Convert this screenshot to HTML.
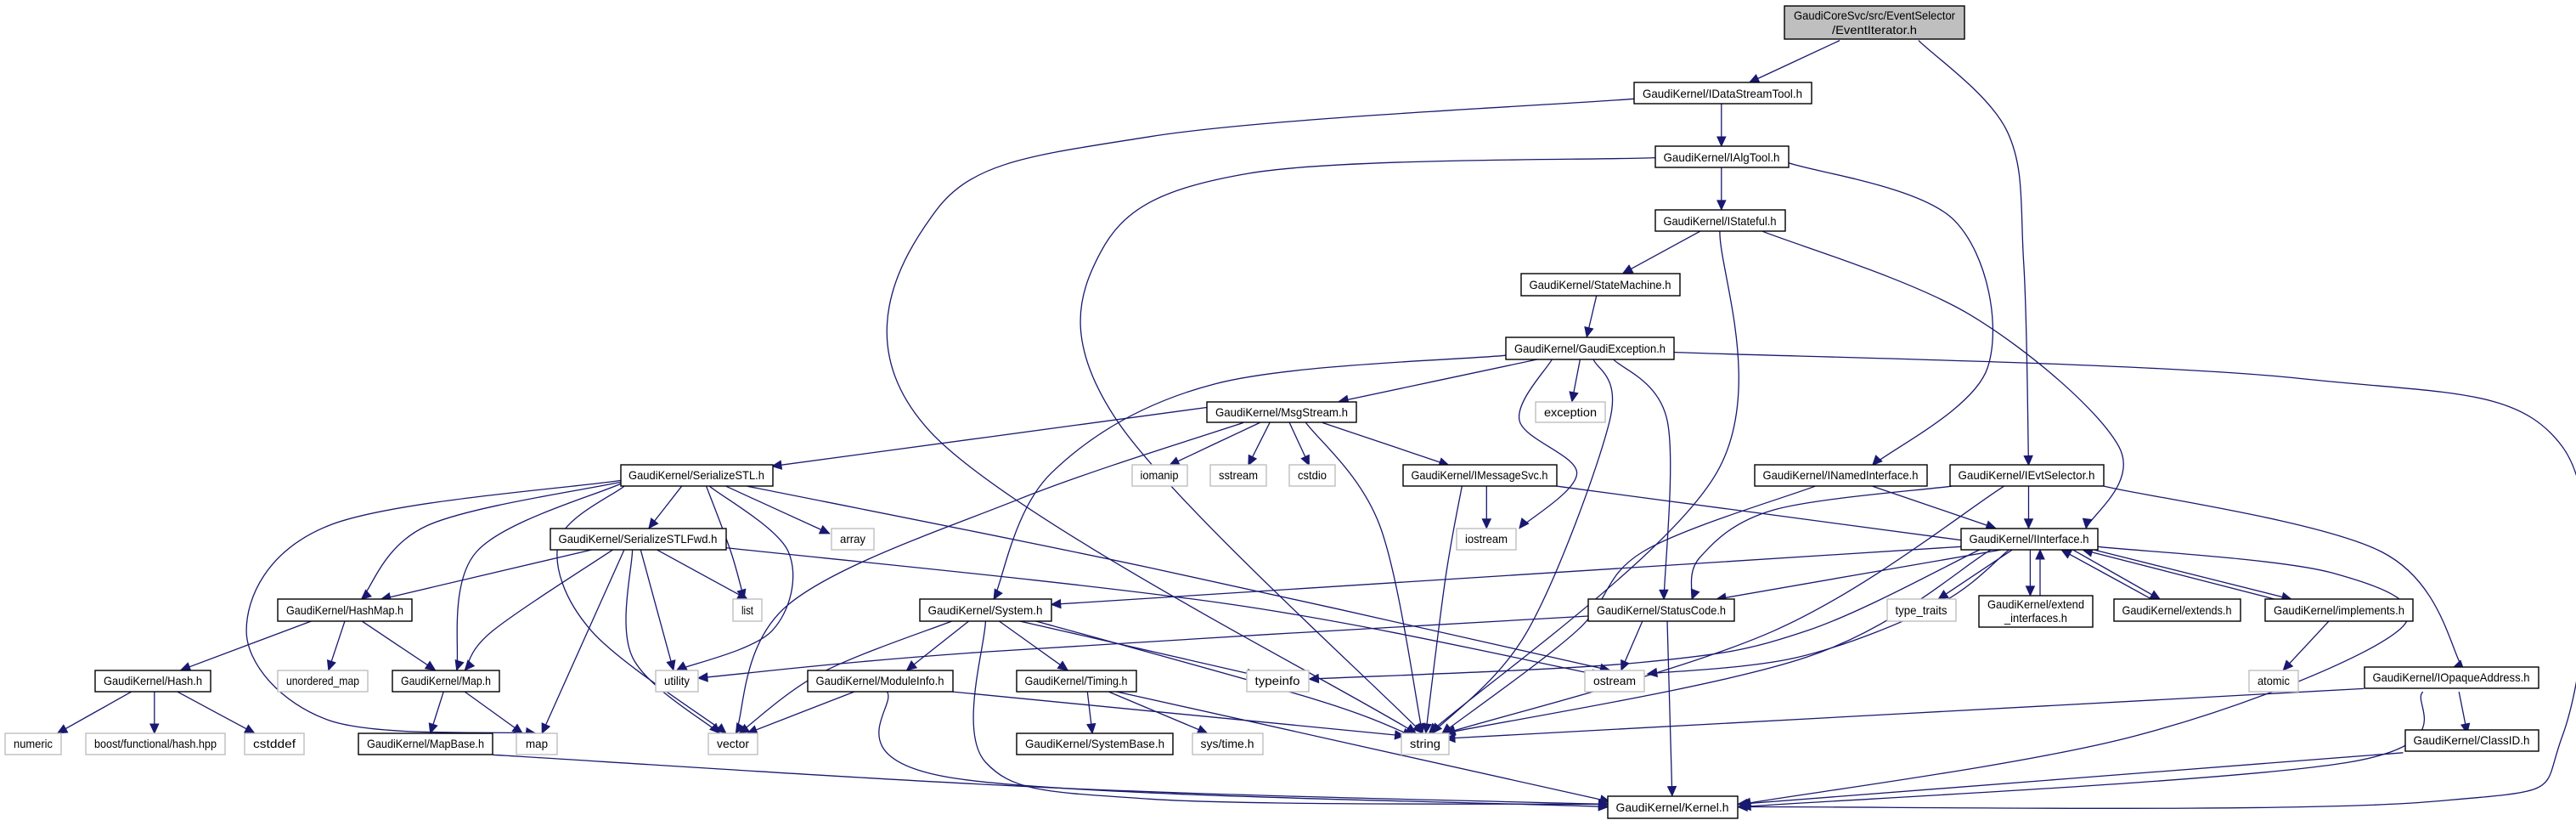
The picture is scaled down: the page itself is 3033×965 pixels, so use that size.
<!DOCTYPE html>
<html><head><meta charset="utf-8"><style>
html,body{margin:0;padding:0;background:#fff;}
svg{display:block;}
text{font-family:"Liberation Sans",sans-serif;font-size:14px;fill:#000;}
</style></head><body>
<svg id="g" xmlns="http://www.w3.org/2000/svg" width="3033" height="965" viewBox="0 0 3033 965">
<g id="edges" fill="none" stroke="#191970" stroke-width="1.3"></g>
<g id="arrows" fill="#191970" stroke="#191970" stroke-width="1"></g>
<g id="nodes" stroke-width="1.4">
<rect x="2101" y="7" width="212" height="39" fill="#bfbfbf" stroke="#000"/>
<text x="2207" y="23" text-anchor="middle" textLength="190" lengthAdjust="spacingAndGlyphs">GaudiCoreSvc/src/EventSelector</text>
<text x="2207" y="40" text-anchor="middle" textLength="100" lengthAdjust="spacingAndGlyphs">/EventIterator.h</text>
</g>
</svg>
<script>
var S=1.934,T=0.6186;
var N=[
[1924,2133,97,122,"GaudiKernel/IDataStreamTool.h",1],
[1949,2106,172,197,"GaudiKernel/IAlgTool.h",1],
[1949,2102,247,272,"GaudiKernel/IStateful.h",1],
[1791,1978,322,348,"GaudiKernel/StateMachine.h",1],
[1773,1971,397,423,"GaudiKernel/GaudiException.h",1],
[1421,1597,473,497,"GaudiKernel/MsgStream.h",1],
[1808,1890,473,497,"exception",0],
[731,910,547,572,"GaudiKernel/SerializeSTL.h",1],
[1333,1398,547,572,"iomanip",0],
[1425,1491,547,572,"sstream",0],
[1518,1572,547,572,"cstdio",0],
[1652,1833,547,572,"GaudiKernel/IMessageSvc.h",1],
[2066,2269,547,572,"GaudiKernel/INamedInterface.h",1],
[2296,2477,547,572,"GaudiKernel/IEvtSelector.h",1],
[648,855,622,647,"GaudiKernel/SerializeSTLFwd.h",1],
[979,1029,622,647,"array",0],
[1715,1785,622,647,"iostream",0],
[2309,2470,622,647,"GaudiKernel/IInterface.h",1],
[327,485,705,731,"GaudiKernel/HashMap.h",1],
[863,897,705,731,"list",0],
[1083,1238,705,731,"GaudiKernel/System.h",1],
[1870,2042,705,731,"GaudiKernel/StatusCode.h",1],
[2222,2303,705,731,"type_traits",0],
[2489,2638,705,731,"GaudiKernel/extends.h",1],
[2667,2841,705,731,"GaudiKernel/implements.h",1],
[112,248,789,814,"GaudiKernel/Hash.h",1],
[327,433,789,814,"unordered_map",0],
[462,588,789,814,"GaudiKernel/Map.h",1],
[772,822,789,814,"utility",0],
[951,1122,789,814,"GaudiKernel/ModuleInfo.h",1],
[1197,1338,789,814,"GaudiKernel/Timing.h",1],
[1468,1541,789,814,"typeinfo",0],
[1866,1936,789,814,"ostream",0],
[2648,2706,789,814,"atomic",0],
[2784,2989,785,810,"GaudiKernel/IOpaqueAddress.h",1],
[6,72,863,888,"numeric",0],
[101,265,863,888,"boost/functional/hash.hpp",0],
[288,358,863,888,"cstddef",0],
[422,580,863,888,"GaudiKernel/MapBase.h",1],
[608,656,863,888,"map",0],
[834,892,863,888,"vector",0],
[1197,1381,863,888,"GaudiKernel/SystemBase.h",1],
[1404,1487,863,888,"sys/time.h",0],
[1650,1706,863,888,"string",0],
[2832,2989,859,884,"GaudiKernel/ClassID.h",1],
[1893,2046,937,963,"GaudiKernel/Kernel.h",1]
];
var ns="http://www.w3.org/2000/svg";
function el(t,a,p){var e=document.createElementNS(ns,t);for(var k in a)e.setAttribute(k,a[k]);p.appendChild(e);return e;}
var G=document.getElementById("nodes");
N.forEach(function(n){
 el("rect",{x:n[0],y:n[2],width:n[1]-n[0],height:n[3]-n[2],fill:"#fff",stroke:n[5]?"#000":"#bfbfbf"},G);
});
// two-line extend_interfaces
el("rect",{x:2330,y:701,width:134,height:37,fill:"#fff",stroke:"#000"},G);
var E=[
[[1120,77],[1065,157]],
[[1168,77],[1222,250],[1232,500],[1235,885]],
[[1048,198],[1048,278]],
[[995,188],[700,260],[570,400],[566,820],[862,1395]],
[[1048,319],[1048,399]],
[[1008,300],[760,330],[670,480],[680,800],[866,1395]],
[[1089,310],[1190,420],[1210,700],[1140,885]],
[[1035,440],[988,520]],
[[1047,440],[1045,900],[870,1395]],
[[1073,440],[1200,600],[1290,850],[1270,1005]],
[[972,562],[966,641]],
[[937,683],[815,764]],
[[917,676],[740,730],[640,900],[605,1140]],
[[962,683],[957,764]],
[[945,683],[925,800],[960,900],[925,1005]],
[[970,683],[980,800],[930,1200],[872,1395]],
[[982,683],[1015,800],[1013,1140]],
[[1019,670],[1400,720],[1560,850],[1560,1400],[1480,1525],[1058,1535]],
[[735,775],[470,887]],
[[757,804],[620,950],[480,1150],[448,1395]],
[[767,804],[712,885]],
[[773,804],[760,885]],
[[785,804],[797,885]],
[[795,804],[840,1000],[866,1395]],
[[805,804],[882,885]],
[[415,925],[395,1005]],
[[442,925],[505,1015]],
[[430,925],[445,1050],[453,1140]],
[[432,925],[480,1050],[470,1200],[412,1275]],
[[455,925],[700,1080],[980,1275]],
[[378,917],[260,1000],[220,1140]],
[[378,920],[290,1050],[278,1275]],
[[378,914],[200,1000],[150,1200],[200,1370],[326,1395]],
[[380,925],[340,1030],[360,1200],[442,1395]],
[[360,1046],[232,1140]],
[[373,1046],[300,1200],[283,1275]],
[[380,1046],[330,1395]],
[[385,1046],[385,1250],[438,1395]],
[[390,1046],[410,1275]],
[[400,1046],[455,1140]],
[[442,1042],[750,1150],[975,1285]],
[[190,1181],[110,1275]],
[[210,1181],[200,1275]],
[[220,1181],[265,1275]],
[[80,1316],[35,1395]],
[[94,1316],[94,1395]],
[[108,1316],[155,1395]],
[[270,1316],[262,1395]],
[[283,1316],[318,1395]],
[[300,1436],[650,1500],[979,1530]],
[[905,925],[905,1005]],
[[890,925],[880,1100],[868,1395]],
[[948,925],[1200,1030]],
[[1140,925],[1215,1005]],
[[1105,925],[1000,1050],[960,1200],[878,1395]],
[[1235,925],[1235,1005]],
[[1188,925],[1080,970],[1035,1060],[1030,1140]],
[[1220,925],[1080,1200],[880,1395]],
[[1281,925],[1450,1050],[1500,1275]],
[[1194,1040],[640,1150]],
[[1218,1046],[1045,1140]],
[[1205,1046],[1100,1200],[1000,1260],[797,1292]],
[[1223,1046],[1180,1150],[1095,1250],[1003,1282]],
[[1225,1046],[1180,1140]],
[[1212,1046],[1100,1250],[880,1395]],
[[1277,1040],[1420,1090],[1460,1200],[1300,1400],[1060,1530]],
[[1236,1046],[1236,1133]],
[[1242,1133],[1242,1046]],
[[1310,1140],[1255,1046]],
[[1262,1046],[1315,1140]],
[[1385,1140],[1268,1046]],
[[1275,1046],[1395,1140]],
[[1418,1181],[1390,1275]],
[[967,1172],[600,1240],[425,1290]],
[[1000,1181],[987,1275]],
[[1015,1181],[1018,1514]],
[[580,1181],[500,1280],[450,1395]],
[[590,1181],[552,1275]],
[[608,1181],[650,1275]],
[[620,1181],[765,1285]],
[[630,1181],[800,1330],[860,1400]],
[[600,1181],[600,1450],[700,1520],[979,1530]],
[[520,1316],[455,1395]],
[[580,1316],[855,1400]],
[[540,1316],[580,1480],[979,1535]],
[[662,1316],[665,1395]],
[[675,1316],[735,1395]],
[[680,1316],[980,1525]],
[[1439,1310],[880,1405]],
[[1497,1316],[1502,1395]],
[[1475,1316],[1430,1450],[1060,1535]],
[[1463,1432],[1058,1530]]
];
var EG=document.getElementById("edges"),AG=document.getElementById("arrows");
E.forEach(function(e){
 var p=e.map(function(q){return [q[0]*S,q[1]*T];});
 var n=p.length,d="M"+p[0][0].toFixed(1)+","+p[0][1].toFixed(1);
 for(var i=0;i<n-1;i++){
  var p0=p[i>0?i-1:i],p1=p[i],p2=p[i+1],p3=p[i+2<n?i+2:i+1];
  var c1=[p1[0]+(p2[0]-p0[0])/6,p1[1]+(p2[1]-p0[1])/6];
  var c2=[p2[0]-(p3[0]-p1[0])/6,p2[1]-(p3[1]-p1[1])/6];
  d+=" C"+c1[0].toFixed(1)+","+c1[1].toFixed(1)+" "+c2[0].toFixed(1)+","+c2[1].toFixed(1)+" "+p2[0].toFixed(1)+","+p2[1].toFixed(1);
 }
 el("path",{d:d},EG);
 var a=p[n-2],b=p[n-1];
 if(n>2){var pp=p[n-3];a=[b[0]-(p[n-1][0]-pp[0])/6*1,b[1]-(p[n-1][1]-pp[1])/6*1];a=[b[0]-(b[0]-a[0]),b[1]-(b[1]-a[1])];a=[ (a[0]+p[n-2][0])/2,(a[1]+p[n-2][1])/2 ];}
 var dx=b[0]-a[0],dy=b[1]-a[1],L=Math.sqrt(dx*dx+dy*dy)||1;dx/=L;dy/=L;
 var l=11,w=5;
 var bx=b[0]-dx*l,by=b[1]-dy*l;
 el("polygon",{points:b[0]+","+b[1]+" "+(bx-dy*w)+","+(by+dx*w)+" "+(bx+dy*w)+","+(by-dx*w)},AG);
});
</script>
<svg style="position:absolute;left:0;top:0" xmlns="http://www.w3.org/2000/svg" width="3033" height="965" viewBox="0 0 3033 965">
<g font-family="Liberation Sans, sans-serif" font-size="14" text-anchor="middle" lengthAdjust="spacingAndGlyphs">
<text x="2028" y="115" textLength="188" lengthAdjust="spacingAndGlyphs">GaudiKernel/IDataStreamTool.h</text>
<text x="2027" y="190" textLength="137" lengthAdjust="spacingAndGlyphs">GaudiKernel/IAlgTool.h</text>
<text x="2025" y="265" textLength="133" lengthAdjust="spacingAndGlyphs">GaudiKernel/IStateful.h</text>
<text x="1884" y="340" textLength="167" lengthAdjust="spacingAndGlyphs">GaudiKernel/StateMachine.h</text>
<text x="1872" y="415" textLength="178" lengthAdjust="spacingAndGlyphs">GaudiKernel/GaudiException.h</text>
<text x="1509" y="490" textLength="156" lengthAdjust="spacingAndGlyphs">GaudiKernel/MsgStream.h</text>
<text x="1849" y="490" textLength="62" lengthAdjust="spacingAndGlyphs" fill="#000">exception</text>
<text x="820" y="564" textLength="160" lengthAdjust="spacingAndGlyphs">GaudiKernel/SerializeSTL.h</text>
<text x="1365" y="564" textLength="45" lengthAdjust="spacingAndGlyphs">iomanip</text>
<text x="1458" y="564" textLength="46" lengthAdjust="spacingAndGlyphs">sstream</text>
<text x="1545" y="564" textLength="34" lengthAdjust="spacingAndGlyphs">cstdio</text>
<text x="1742" y="564" textLength="161" lengthAdjust="spacingAndGlyphs">GaudiKernel/IMessageSvc.h</text>
<text x="2167" y="564" textLength="183" lengthAdjust="spacingAndGlyphs">GaudiKernel/INamedInterface.h</text>
<text x="2386" y="564" textLength="161" lengthAdjust="spacingAndGlyphs">GaudiKernel/IEvtSelector.h</text>
<text x="751" y="639" textLength="187" lengthAdjust="spacingAndGlyphs">GaudiKernel/SerializeSTLFwd.h</text>
<text x="1004" y="639" textLength="30" lengthAdjust="spacingAndGlyphs">array</text>
<text x="1750" y="639" textLength="50" lengthAdjust="spacingAndGlyphs">iostream</text>
<text x="2389" y="639" textLength="141" lengthAdjust="spacingAndGlyphs">GaudiKernel/IInterface.h</text>
<text x="406" y="723" textLength="138" lengthAdjust="spacingAndGlyphs">GaudiKernel/HashMap.h</text>
<text x="880" y="723" textLength="14" lengthAdjust="spacingAndGlyphs">list</text>
<text x="1160" y="723" textLength="135" lengthAdjust="spacingAndGlyphs">GaudiKernel/System.h</text>
<text x="1956" y="723" textLength="152" lengthAdjust="spacingAndGlyphs">GaudiKernel/StatusCode.h</text>
<text x="2262" y="723" textLength="61" lengthAdjust="spacingAndGlyphs">type_traits</text>
<text x="2397" y="716" textLength="114" lengthAdjust="spacingAndGlyphs">GaudiKernel/extend</text>
<text x="2397" y="732" textLength="74" lengthAdjust="spacingAndGlyphs">_interfaces.h</text>
<text x="2563" y="723" textLength="129" lengthAdjust="spacingAndGlyphs">GaudiKernel/extends.h</text>
<text x="2754" y="723" textLength="154" lengthAdjust="spacingAndGlyphs">GaudiKernel/implements.h</text>
<text x="180" y="806" textLength="116" lengthAdjust="spacingAndGlyphs">GaudiKernel/Hash.h</text>
<text x="380" y="806" textLength="86" lengthAdjust="spacingAndGlyphs">unordered_map</text>
<text x="525" y="806" textLength="106" lengthAdjust="spacingAndGlyphs">GaudiKernel/Map.h</text>
<text x="797" y="806" textLength="30" lengthAdjust="spacingAndGlyphs">utility</text>
<text x="1036" y="806" textLength="151" lengthAdjust="spacingAndGlyphs">GaudiKernel/ModuleInfo.h</text>
<text x="1267" y="806" textLength="121" lengthAdjust="spacingAndGlyphs">GaudiKernel/Timing.h</text>
<text x="1504" y="806" textLength="53" lengthAdjust="spacingAndGlyphs">typeinfo</text>
<text x="1901" y="806" textLength="50" lengthAdjust="spacingAndGlyphs">ostream</text>
<text x="2677" y="806" textLength="38" lengthAdjust="spacingAndGlyphs">atomic</text>
<text x="2886" y="802" textLength="185" lengthAdjust="spacingAndGlyphs">GaudiKernel/IOpaqueAddress.h</text>
<text x="39" y="880" textLength="46" lengthAdjust="spacingAndGlyphs">numeric</text>
<text x="183" y="880" textLength="144" lengthAdjust="spacingAndGlyphs">boost/functional/hash.hpp</text>
<text x="323" y="880" textLength="50" lengthAdjust="spacingAndGlyphs">cstddef</text>
<text x="501" y="880" textLength="138" lengthAdjust="spacingAndGlyphs">GaudiKernel/MapBase.h</text>
<text x="632" y="880" textLength="26" lengthAdjust="spacingAndGlyphs">map</text>
<text x="863" y="880" textLength="38" lengthAdjust="spacingAndGlyphs">vector</text>
<text x="1289" y="880" textLength="164" lengthAdjust="spacingAndGlyphs">GaudiKernel/SystemBase.h</text>
<text x="1445" y="880" textLength="63" lengthAdjust="spacingAndGlyphs">sys/time.h</text>
<text x="1678" y="880" textLength="36" lengthAdjust="spacingAndGlyphs">string</text>
<text x="2910" y="876" textLength="137" lengthAdjust="spacingAndGlyphs">GaudiKernel/ClassID.h</text>
<text x="1969" y="955" textLength="133" lengthAdjust="spacingAndGlyphs">GaudiKernel/Kernel.h</text>
</g>
</svg>
</body></html>
